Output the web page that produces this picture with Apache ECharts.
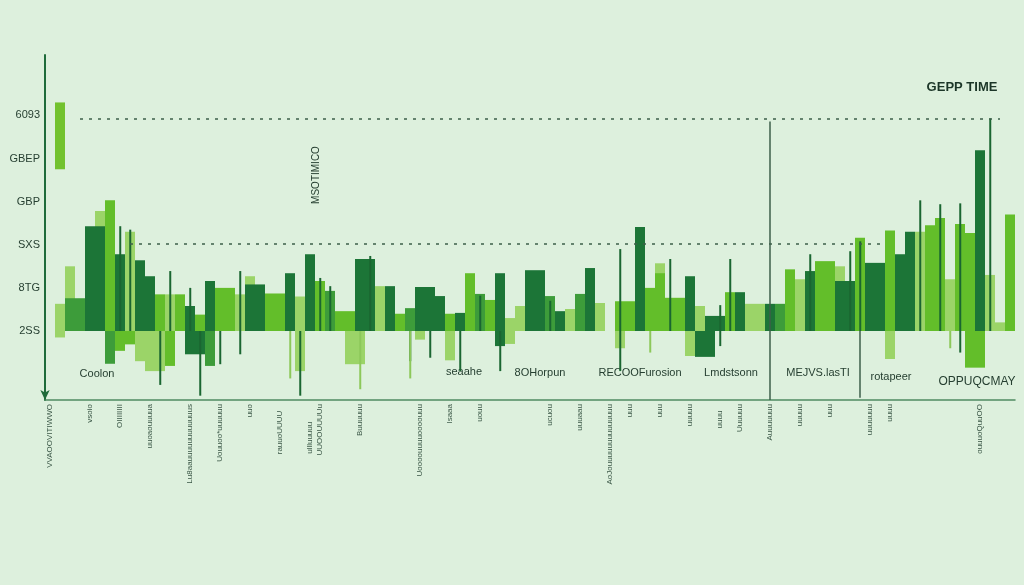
<!DOCTYPE html>
<html><head><meta charset="utf-8">
<script src="https://cdn.jsdelivr.net/npm/echarts@6.0.0/dist/echarts.min.js"></script>
<style>html,body{margin:0;padding:0;background:#ddf0dd}#c{width:1024px;height:585px}</style>
</head><body><div id="c"></div>
<script>
// ---- data ----
const slotCount = 97;
const axisLabelsAt = [
  [0,'VVAOOVITIWWO'],[4,'vsoio'],[7,'OIIIIIIII'],[10,'uuoaouuuua'],
  [14,'Lu8aauuuuuuuuuuuus'],[17,'Uouuoo*uuuuuu'],[20,'uuo'],[23,'rauuoUUUU   '],
  [26,'ullluuuuu        '],[27,'UUOOUUUUu'],[31,'Buuuuuu'],[37,'Uoooouuuuoooouuu'],
  [40,'lsaaa'],[43,'uouu'],[50,'ucuou'],[53,'uuuaau'],[56,'AoJouuuuuuuuuuuuuu'],
  [58,'uuu'],[61,'uuu'],[64,'uuuuu'],[67,'uuuu   '],[69,'Uuuuuu'],[72,'Auuuuuuu'],
  [75,'uuuuu'],[78,'uuu'],[82,'uuuuuuu'],[84,'uuuu'],[93,'ouuuoQuuOO']
];
const yTickNames = ['2SS','8TG','SXS','GBP','GBEP','6093'];
const yAxisTitle = 'uuuauuuuouuuuuouuuuu';

const paleBars = [[1,0.63],[1,-0.15],[2,1.5],[5,2.78],[8,2.3],[9,-0.7],[10,-0.93],[11,-0.93],
  [12,0.85],[19,0.85],[20,1.27],[25,0.8],[25,-0.93],[30,-0.77],[31,-0.77],[33,1.04],[37,0.53],
  [37,-0.2],[40,-0.68],[46,0.3],[46,-0.3],[47,0.58],[52,0.51],[55,0.65],[57,-0.4],[61,1.57],
  [64,-0.58],[65,0.58],[70,0.63],[71,0.63],[75,1.2],[79,1.5],[83,0.6],[84,-0.65],[87,2.3],
  [90,1.2],[94,1.3],[95,0.2]];
const brightBars = [[6,3.03],[7,-0.46],[8,-0.31],[11,0.85],[12,-0.81],[13,0.85],[15,0.38],
  [17,1.0],[18,1.0],[22,0.87],[23,0.87],[27,1.16],[29,0.46],[30,0.46],[35,0.4],[40,0.4],
  [42,1.34],[44,0.72],[57,0.69],[58,0.69],[60,1.0],[61,1.34],[62,0.77],[63,0.77],[68,0.9],
  [74,1.43],[77,1.62],[78,1.62],[81,2.16],[84,2.33],[88,2.45],[89,2.62],[91,2.48],[92,2.27],
  [92,-0.85],[93,-0.85],[96,2.7]];
const midBars = [[2,0.76],[3,0.76],[6,-0.76],[16,-0.81],[28,0.93],[36,0.53],[43,0.86],
  [49,0.81],[50,0.81],[53,0.86],[73,0.63]];
const darkBars = [[4,2.43],[5,2.43],[7,1.78],[9,1.64],[10,1.27],[14,0.58],[14,-0.54],[15,-0.54],
  [16,1.16],[20,1.08],[21,1.08],[24,1.34],[26,1.78],[31,1.67],[32,1.67],[34,1.04],[37,1.02],
  [38,1.02],[39,0.81],[41,0.42],[45,1.34],[45,-0.35],[48,1.41],[49,1.41],[51,0.46],[54,1.46],
  [59,2.41],[64,1.27],[65,-0.6],[66,0.35],[66,-0.6],[67,0.35],[69,0.9],[72,0.63],[76,1.39],
  [79,1.16],[80,1.16],[82,1.58],[83,1.58],[85,1.78],[86,2.3],[93,4.19]];
const floatBase = [[1,3.75]];
const floatTop = [[1,1.55]];
const darkNeedles = [[7,2.43],[8,2.35],[11,-1.25],[12,1.39],[14,1.0],[15,-1.5],[17,-0.77],
  [19,1.39],[19,-0.54],[25,-1.5],[27,1.23],[28,1.04],[32,1.74],[36,-0.7],[38,-0.62],[41,-0.93],
  [43,0.82],[45,-0.93],[50,0.7],[57,1.9],[57,-0.93],[62,1.67],[67,0.6],[67,-0.35],[68,1.67],
  [76,1.78],[80,1.85],[81,2.08],[87,3.03],[89,2.94],[91,2.96],[91,-0.5],[94,4.93]];
const paleNeedles = [[24,-1.1],[31,-1.35],[36,-1.1],[60,-0.5],[90,-0.4]];
const guideLines = [[72,4.86],[72,-1.6],[81,-1.55]];
const refLevels = [[3,95,4.92],[8,83,2.02]];
const titleText = 'GEPP TIME';
const sideNote = 'MSOTIMICO';
const rowNotes = ['Coolon','seaahe','8OHorpun','RECOOFurosion','Lmdstsonn','MEJVS.lasTI','rotapeer','OPPUQCMAY'];

// ---- build ----
const labelMap = {};
axisLabelsAt.forEach(([i, t]) => labelMap[i] = t);
const categories = Array.from({length: slotCount}, (_, i) => labelMap[i] !== undefined ? labelMap[i] : ('s' + i));

const C = {pale:'#9bd468', bright:'#63be2a', mid:'#3d9c3a', dark:'#1c7537', line:'#1a6631', guide:'#3c5f4a', text:'#263f31'};
const font = 'Liberation Sans, Arial, sans-serif';

function bars(name, data, color, extra) {
  return Object.assign({name, type:'bar', xAxisIndex:0, data, barWidth:10, barGap:'-100%',
    itemStyle:{color}, silent:true}, extra || {});
}
function needles(name, data, color, w) {
  return {name, type:'bar', xAxisIndex:1, data, barWidth:w, barGap:'-100%', itemStyle:{color}, silent:true};
}

const chart = echarts.init(document.getElementById('c'), null, {renderer:'canvas'});
const notePos = [[97,374],[464,372],[540,373],[640,373],[731,373],[818,373],[891,377],[977,382]];
chart.setOption({
  backgroundColor:'#ddf0dd',
  animation:false,
  textStyle:{fontFamily:font},
  grid:{left:45, right:9, top:55, bottom:185, containLabel:false, outerBoundsMode:'none'},
  xAxis:[{
    type:'category', data:categories, boundaryGap:true, position:'bottom',
    axisLine:{onZero:false, lineStyle:{color:'#4f8a62', width:1.5}},
    axisTick:{show:false},
    axisLabel:{interval:0, rotate:90, fontSize:8, color:'#3a5646', margin:4,
      formatter: v => /^s\d+$/.test(v) ? '' : v},
    splitLine:{show:false}
  },{
    type:'category', data:categories, show:false, boundaryGap:true, position:'bottom'
  }],
  yAxis:{
    type:'value', min:-1.6, max:6.4, interval:0.2,
    name:yAxisTitle, nameLocation:'middle', nameGap:34, nameRotate:90,
    nameTextStyle:{fontSize:8, color:'#4a6a58'},
    axisLine:{show:true, symbol:['arrow','none'], symbolSize:[7,10], lineStyle:{color:'#1f6b3a', width:2}},
    axisTick:{show:false},
    splitLine:{show:false},
    axisLabel:{fontSize:11, color:C.text, margin:5, fontFamily:font,
      formatter: v => {
        const r = Math.round(v);
        if (Math.abs(v - r) < 1e-6 && r >= 0 && r < yTickNames.length) return yTickNames[r];
        return '';
      }}
  },
  series:[
    bars('pale', paleBars, C.pale),
    bars('bright', brightBars, C.bright),
    bars('mid', midBars, C.mid),
    bars('dark', darkBars, C.dark, {
      markLine:{silent:true, symbol:['none','none'], label:{show:false},
        lineStyle:{color:C.guide, type:[3,6], width:1.5},
        data: refLevels.map(([a,b,v]) => [{coord:[a,v]},{coord:[b,v]}])}
    }),
    bars('floatBase', floatBase, 'rgba(0,0,0,0)', {stack:'f'}),
    bars('floatTop', floatTop, '#72c22e', {stack:'f'}),
    needles('darkNeedles', darkNeedles, C.line, 2),
    needles('paleNeedles', paleNeedles, '#8cc85a', 2),
    needles('guides', guideLines, C.guide, 1.5)
  ],
  graphic:[
    {type:'text', x:962, y:87, style:{text:titleText, fill:'#1c3628', font:'bold 13px ' + font, textAlign:'center', textVerticalAlign:'middle'}},
    {type:'text', x:316, y:175, rotation:Math.PI/2, style:{text:sideNote, fill:C.text, font:'10px ' + font, textAlign:'center', textVerticalAlign:'middle'}}
  ].concat(rowNotes.map((t, i) => ({type:'text', x:notePos[i][0], y:notePos[i][1],
    style:{text:t, fill:C.text, font:(i === rowNotes.length - 1 ? '12px ' : '11px ') + font, textAlign:'center', textVerticalAlign:'middle'}})))
});
</script></body></html>
